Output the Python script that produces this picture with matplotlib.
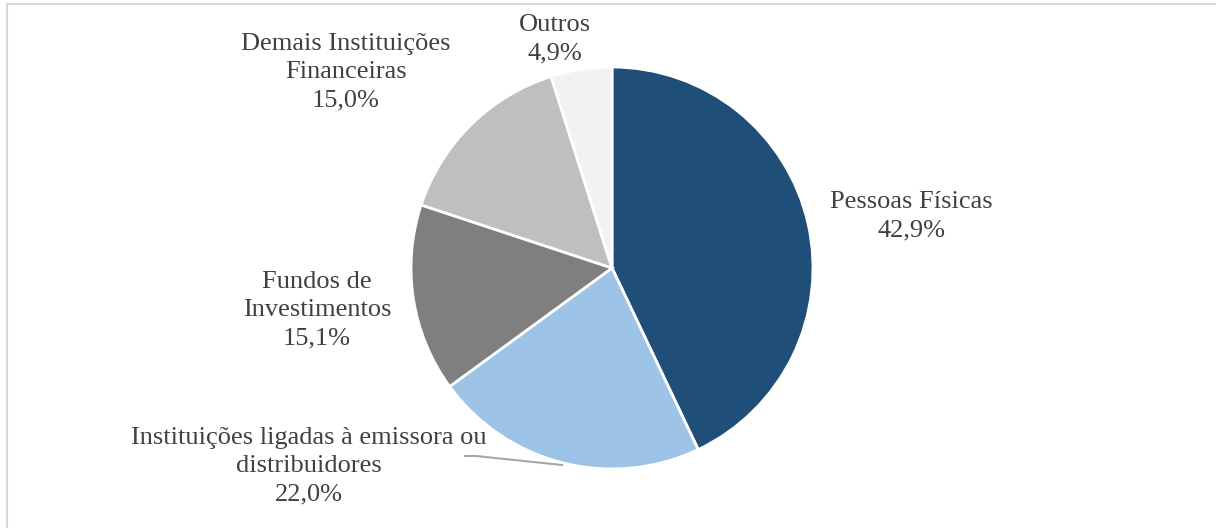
import matplotlib.pyplot as plt
from matplotlib.patches import Rectangle

plt.rcParams['font.family'] = ['Liberation Serif', 'DejaVu Serif']

# Participation by investor type (%)
categories = ['Pessoas Físicas',
              'Instituições ligadas à emissora ou\ndistribuidores',
              'Fundos de\nInvestimentos',
              'Demais Instituições\nFinanceiras',
              'Outros']
shares = [42.9, 22.0, 15.1, 15.0, 4.9]
colors = ['#1F4E79', '#9DC3E6', '#7F7F7F', '#BFBFBF', '#F2F2F2']

# label anchor points (pixels, origin bottom-left)
label_pos = [(911, 312), (309, 62), (317, 218), (346, 456), (555, 489)]

fig = plt.figure(figsize=(12.16, 5.28), dpi=100)
ax = fig.add_axes([0, 0, 1, 1])

ax.pie(shares, colors=colors, startangle=90, counterclock=False,
       center=(612, 260), radius=201,
       wedgeprops=dict(edgecolor='white', linewidth=2))

# pie() resets the limits, so set them afterwards
ax.set_xlim(0, 1216)
ax.set_ylim(0, 528)
ax.set_aspect('equal')
ax.axis('off')

# frame around the chart area
fig.patches.append(Rectangle((7 / 1216, -0.1), 1.2, (528 - 4) / 528 + 0.1,
                             transform=fig.transFigure, fill=False,
                             edgecolor='#D9D9D9', linewidth=1.5))

for name, val, (x, y) in zip(categories, shares, label_pos):
    txt = name + '\n' + f'{val:.1f}%'.replace('.', ',')
    ax.text(x, y, txt, ha='center', va='center', fontsize=19,
            color='#404040', linespacing=1.38)

# leader line for the light blue slice
ax.plot([465, 476, 562], [72, 72, 63], color='#A6A6A6', linewidth=1.5)

fig.savefig('out.png', dpi=100)
